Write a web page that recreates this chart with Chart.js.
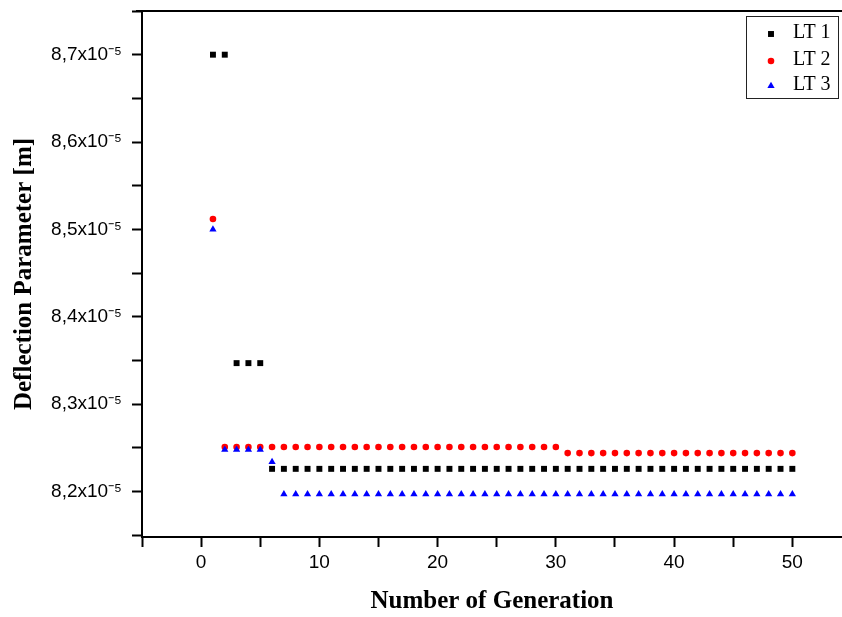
<!DOCTYPE html>
<html>
<head>
<meta charset="utf-8">
<script src="https://cdn.jsdelivr.net/npm/chart.js"></script>
<style>
  html, body { margin: 0; padding: 0; background: #fff; }
  canvas { display: block; }
</style>
</head>
<body>
<canvas id="deflChart" width="842" height="617"></canvas>
<script>
// number of generation (x)
const generations = [
  1, 2, 3, 4, 5, 6, 7, 8, 9, 10,
  11, 12, 13, 14, 15, 16, 17, 18, 19, 20,
  21, 22, 23, 24, 25, 26, 27, 28, 29, 30,
  31, 32, 33, 34, 35, 36, 37, 38, 39, 40,
  41, 42, 43, 44, 45, 46, 47, 48, 49, 50
];

// deflection parameter, in units of 10^-5 m
const lt1 = [
  8.700, 8.700, 8.347, 8.347, 8.347, 8.226, 8.226, 8.226, 8.226, 8.226,
  8.226, 8.226, 8.226, 8.226, 8.226, 8.226, 8.226, 8.226, 8.226, 8.226,
  8.226, 8.226, 8.226, 8.226, 8.226, 8.226, 8.226, 8.226, 8.226, 8.226,
  8.226, 8.226, 8.226, 8.226, 8.226, 8.226, 8.226, 8.226, 8.226, 8.226,
  8.226, 8.226, 8.226, 8.226, 8.226, 8.226, 8.226, 8.226, 8.226, 8.226
];
const lt2 = [
  8.512, 8.251, 8.251, 8.251, 8.251, 8.251, 8.251, 8.251, 8.251, 8.251,
  8.251, 8.251, 8.251, 8.251, 8.251, 8.251, 8.251, 8.251, 8.251, 8.251,
  8.251, 8.251, 8.251, 8.251, 8.251, 8.251, 8.251, 8.251, 8.251, 8.251,
  8.244, 8.244, 8.244, 8.244, 8.244, 8.244, 8.244, 8.244, 8.244, 8.244,
  8.244, 8.244, 8.244, 8.244, 8.244, 8.244, 8.244, 8.244, 8.244, 8.244
];
const lt3 = [
  8.500, 8.248, 8.248, 8.248, 8.248, 8.234, 8.197, 8.197, 8.197, 8.197,
  8.197, 8.197, 8.197, 8.197, 8.197, 8.197, 8.197, 8.197, 8.197, 8.197,
  8.197, 8.197, 8.197, 8.197, 8.197, 8.197, 8.197, 8.197, 8.197, 8.197,
  8.197, 8.197, 8.197, 8.197, 8.197, 8.197, 8.197, 8.197, 8.197, 8.197,
  8.197, 8.197, 8.197, 8.197, 8.197, 8.197, 8.197, 8.197, 8.197, 8.197
];

const seriesNames = ['LT 1', 'LT 2', 'LT 3'];
const seriesColors = ['#000000', '#ff0000', '#0000ff'];
const seriesStyles = ['rect', 'circle', 'triangle'];
const seriesRadius = [4.2, 3.3, 4.2];

const xTitle = 'Number of Generation';
const yTitle = 'Deflection Parameter [m]';

const toPoints = arr => generations.map((g, i) => ({ x: g, y: arr[i] }));

// legend box drawn inside the plot, top right (+ top frame line)
const boxLegend = {
  id: 'boxLegend',
  afterDraw(chart) {
    const ctx = chart.ctx;
    const area = chart.chartArea;
    ctx.save();

    ctx.strokeStyle = '#000';
    ctx.lineWidth = 2;
    ctx.beginPath();
    ctx.moveTo(area.left - 6, area.top);
    ctx.lineTo(area.right, area.top);
    ctx.stroke();

    const bx = 746, by = 16, bw = 92, bh = 82;
    ctx.lineWidth = 1;
    ctx.strokeStyle = '#222';
    ctx.strokeRect(bx + 0.5, by + 0.5, bw, bh);

    const rowsY = [34, 61, 86];
    ctx.font = '20px "Liberation Serif", "Times New Roman", serif';
    ctx.textBaseline = 'middle';
    ctx.textAlign = 'left';
    seriesNames.forEach((name, i) => {
      const mx = 771, my = rowsY[i];
      const r = seriesRadius[i];
      ctx.fillStyle = seriesColors[i];
      ctx.beginPath();
      if (seriesStyles[i] === 'rect') {
        const s = r * Math.SQRT1_2;
        ctx.rect(mx - s, my - s, 2 * s, 2 * s);
      } else if (seriesStyles[i] === 'circle') {
        ctx.arc(mx, my, r, 0, Math.PI * 2);
      } else {
        ctx.moveTo(mx, my - r);
        ctx.lineTo(mx + r * 0.866, my + r / 2);
        ctx.lineTo(mx - r * 0.866, my + r / 2);
        ctx.closePath();
      }
      ctx.fill();
      ctx.fillStyle = '#000';
      ctx.fillText(name, 793, my - 1);
    });
    ctx.restore();
  }
};

const ctx = document.getElementById('deflChart').getContext('2d');
const myChart = new Chart(ctx, {
  type: 'scatter',
  data: {
    datasets: [lt1, lt2, lt3].map((arr, i) => ({
      label: seriesNames[i],
      data: toPoints(arr),
      pointStyle: seriesStyles[i],
      pointRadius: seriesRadius[i],
      pointBackgroundColor: seriesColors[i],
      pointBorderWidth: 0,
      borderColor: seriesColors[i],
      backgroundColor: seriesColors[i],
      order: 3 - i
    }))
  },
  options: {
    responsive: false,
    animation: false,
    layout: { autoPadding: false, padding: { top: 11, right: 0, left: 0, bottom: 0 } },
    plugins: {
      legend: { display: false },
      tooltip: { enabled: false }
    },
    scales: {
      x: {
        type: 'linear',
        min: -5,
        max: 54.2,
        afterFit: s => { s.height = 80; s.paddingLeft = 0; s.paddingRight = 0; },
        border: { display: true, color: '#000', width: 2 },
        grid: { drawOnChartArea: false, drawTicks: true, tickLength: 10, tickColor: '#000', tickWidth: 2 },
        ticks: {
          stepSize: 5,
          includeBounds: false,
          autoSkip: false,
          maxRotation: 0,
          padding: 4,
          color: '#000',
          font: { family: '"Liberation Sans", Arial, sans-serif', size: 19 },
          callback: v => (Math.abs(v % 10) < 1e-6 ? String(v) : '')
        },
        title: {
          display: true,
          text: xTitle,
          color: '#000',
          padding: { top: 0, bottom: 0 },
          font: { family: '"Liberation Serif", "Times New Roman", serif', size: 25, weight: 'bold' }
        }
      },
      y: {
        type: 'linear',
        min: 8.148,
        max: 8.75,
        afterFit: s => { s.width = 142; s.paddingTop = 0; s.paddingBottom = 0; },
        border: { display: true, color: '#000', width: 2 },
        grid: { drawOnChartArea: false, drawTicks: true, tickLength: 10, tickColor: '#000', tickWidth: 2 },
        ticks: {
          stepSize: 0.05,
          includeBounds: false,
          autoSkip: false,
          padding: 10,
          color: '#000',
          font: { family: '"Liberation Sans", Arial, sans-serif', size: 19 },
          callback: v => {
            if (Math.abs(v * 10 - Math.round(v * 10)) > 1e-6) return '';
            return v.toFixed(1).replace('.', ',') + 'x10\u207B\u2075';
          }
        },
        title: {
          display: true,
          text: yTitle,
          color: '#000',
          padding: { top: 10, bottom: 0 },
          font: { family: '"Liberation Serif", "Times New Roman", serif', size: 25, weight: 'bold' }
        }
      }
    }
  },
  plugins: [boxLegend]
});
</script>
</body>
</html>
